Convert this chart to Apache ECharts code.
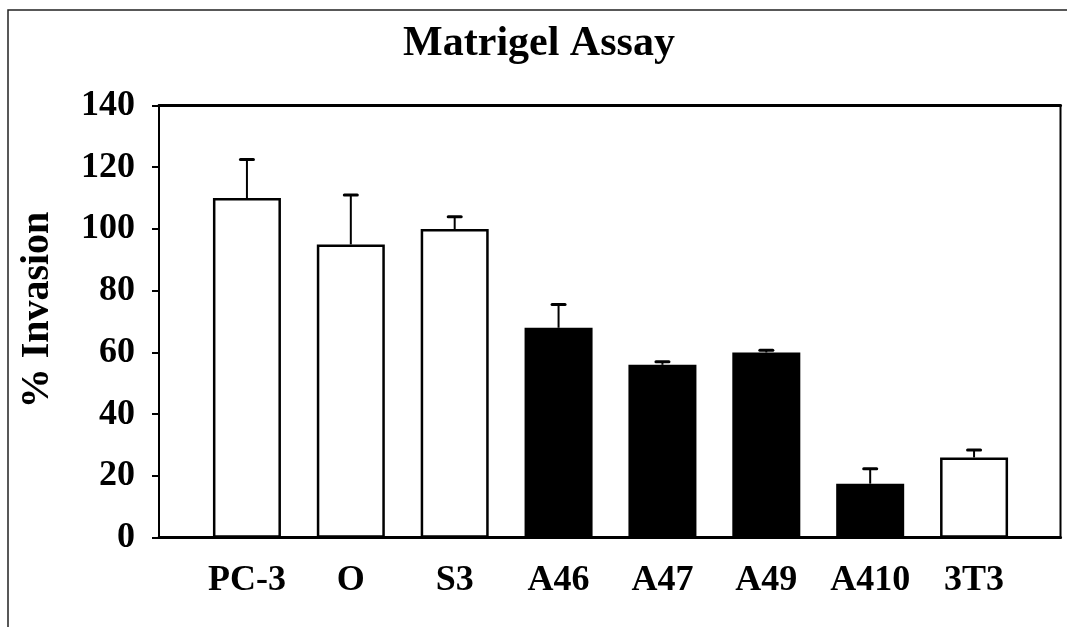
<!DOCTYPE html>
<html>
<head>
<meta charset="utf-8">
<script src="https://cdn.jsdelivr.net/npm/echarts@6/dist/echarts.min.js"></script>
<style>html,body{margin:0;padding:0;background:#fff}#c{width:1067px;height:627px}</style>
</head>
<body>
<div id="c"></div>
<script>
const categories = ['PC-3', 'O', 'S3', 'A46', 'A47', 'A49', 'A410', '3T3'];
const controlValues = [110, 95, 100, null, null, null, null, 26];
const a4Values = [null, null, null, 68, 56, 60, 17.5, null];
const errorTops = [122.5, 111, 104, 75.5, 57, 60.7, 22.3, 28.4];
const yTicks = { min: 0, max: 140, interval: 20 };

const FONT = '"Liberation Serif", "Times New Roman", serif';
const chart = echarts.init(document.getElementById('c'), null, { renderer: 'canvas' });

const barValue = i => (controlValues[i] != null ? controlValues[i] : a4Values[i]);

const option = {
  animation: false,
  backgroundColor: '#fff',
  graphic: [
    { type: 'rect', shape: { x: 8, y: 10, width: 1100, height: 700 },
      style: { fill: 'none', stroke: '#222', lineWidth: 1.5 }, z: 0 },
    { type: 'text', x: 539, y: 44,
      style: { text: 'Matrigel Assay', font: 'bold 42px ' + FONT, fill: '#000',
               textAlign: 'center', textVerticalAlign: 'middle' } },
    { type: 'text', x: 38, y: 310, rotation: Math.PI / 2,
      style: { text: '% Invasion', font: 'bold 40px ' + FONT, fill: '#000',
               textAlign: 'center', textVerticalAlign: 'middle' } }
  ],
  grid: [
    { left: 159, right: 6.5, top: 105.5, bottom: 89.3, show: true,
      borderColor: '#000', borderWidth: 2, backgroundColor: 'transparent' },
    { left: 195, right: 41, top: 105.5, bottom: 89.3 }
  ],
  xAxis: [
    { gridIndex: 0, type: 'value', min: 0, max: 1, position: 'bottom',
      axisLine: { show: true, lineStyle: { color: '#000', width: 3 } },
      axisTick: { show: false }, axisLabel: { show: false }, splitLine: { show: false } },
    { gridIndex: 0, type: 'value', min: 0, max: 1, position: 'top',
      axisLine: { show: true, lineStyle: { color: '#000', width: 3 } },
      axisTick: { show: false }, axisLabel: { show: false }, splitLine: { show: false } },
    { gridIndex: 1, type: 'category', data: categories, position: 'bottom',
      axisLine: { show: false }, axisTick: { show: false }, splitLine: { show: false },
      axisLabel: { interval: 0, color: '#000', fontFamily: FONT, fontWeight: 'bold', fontSize: 36, margin: 25 } }
  ],
  yAxis: [
    { gridIndex: 0, type: 'value', min: yTicks.min, max: yTicks.max, interval: yTicks.interval,
      axisLine: { show: true, lineStyle: { color: '#000', width: 2 } },
      axisTick: { show: true, inside: false, length: 7, lineStyle: { color: '#000', width: 2 } },
      axisLabel: { color: '#000', fontFamily: FONT, fontWeight: 'bold', fontSize: 36, margin: 24 },
      splitLine: { show: false } },
    { gridIndex: 1, type: 'value', min: yTicks.min, max: yTicks.max, show: false }
  ],
  series: [
    { type: 'bar', xAxisIndex: 2, yAxisIndex: 1, data: controlValues, barWidth: 68, barGap: '-100%',
      itemStyle: { color: '#fff', borderColor: '#000', borderWidth: 2.5 }, z: 3 },
    { type: 'bar', xAxisIndex: 2, yAxisIndex: 1, data: a4Values, barWidth: 68, barGap: '-100%',
      itemStyle: { color: '#000', borderColor: '#000', borderWidth: 2 }, z: 3 },
    { type: 'custom', xAxisIndex: 2, yAxisIndex: 1, z: 4,
      data: errorTops.map((t, i) => [i, barValue(i), t]),
      renderItem: function (params, api) {
        const base = api.coord([api.value(0), api.value(1)]);
        const top = api.coord([api.value(0), api.value(2)]);
        return { type: 'group', children: [
          { type: 'line', shape: { x1: base[0], y1: base[1], x2: top[0], y2: top[1] },
            style: { stroke: '#000', lineWidth: 2 } },
          { type: 'line', shape: { x1: top[0] - 6.5, y1: top[1], x2: top[0] + 6.5, y2: top[1] },
            style: { stroke: '#000', lineWidth: 3, lineCap: 'round' } }
        ] };
      } }
  ]
};
chart.setOption(option);
</script>
</body>
</html>
